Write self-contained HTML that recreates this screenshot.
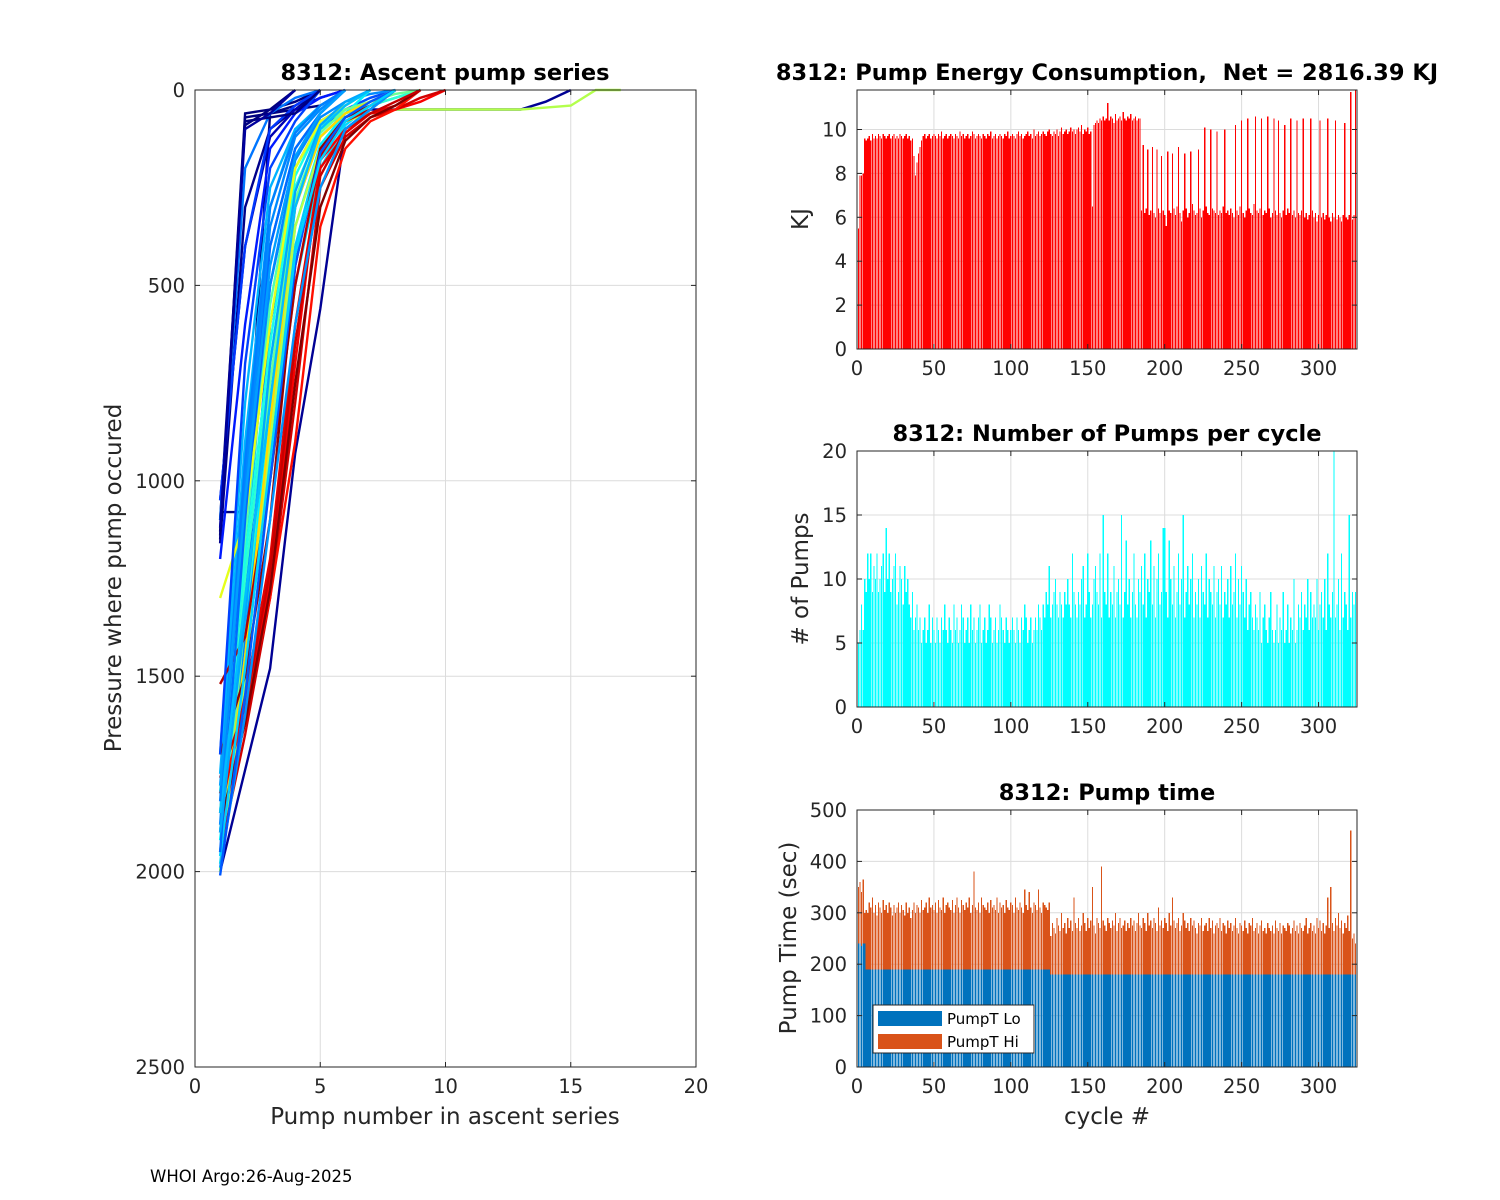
<!DOCTYPE html>
<html><head><meta charset="utf-8">
<style>
html,body{margin:0;padding:0;background:#fff;}
svg{display:block;font-family:"DejaVu Sans","Liberation Sans",sans-serif;}
</style></head>
<body>
<svg id="fig" width="1500" height="1200" viewBox="0 0 1500 1200"></svg>
<script>
// ---------- DATA ----------
const energyKJ = [5.5,7.9,7.9,8.0,9.6,9.5,9.6,9.7,9.5,9.8,9.6,9.7,9.6,9.8,9.7,9.6,9.8,9.7,9.6,9.7,
9.8,9.6,9.7,9.8,9.6,9.7,9.6,9.8,9.7,9.6,9.7,9.8,9.6,9.7,9.5,9.6,8.8,7.9,8.5,8.9,
9.2,9.5,9.7,9.8,9.6,9.7,9.8,9.6,9.7,9.8,9.7,9.6,9.8,9.7,9.9,9.6,9.7,9.8,9.6,9.7,
9.8,9.7,9.6,9.8,9.7,9.6,9.9,9.7,9.8,9.6,9.7,9.8,9.6,9.7,9.9,9.8,9.6,9.7,9.8,9.7,
9.6,9.8,9.7,9.6,9.8,9.7,9.9,9.6,9.7,9.8,9.6,9.7,9.8,9.7,9.6,9.8,9.7,9.9,9.6,9.7,
9.8,9.7,9.6,9.8,9.9,9.7,9.8,9.6,9.7,9.8,9.9,9.7,9.8,9.6,10.0,9.7,9.8,9.9,9.7,9.8,
9.9,9.8,9.7,9.9,10.0,9.8,9.7,9.9,9.8,10.0,9.7,9.9,10.1,9.8,9.9,10.0,9.8,9.9,10.1,9.9,
10.0,9.8,10.0,10.1,9.9,10.2,9.8,10.0,9.9,10.1,9.8,9.9,6.5,10.2,10.3,10.4,10.3,10.5,10.4,10.6,
10.4,10.5,11.2,10.4,10.6,10.5,10.3,10.7,10.4,10.5,10.6,10.4,10.8,10.5,10.4,10.6,10.5,10.7,10.4,10.5,
10.6,10.4,10.5,10.5,6.3,9.3,6.2,6.4,9.1,6.1,6.3,9.2,6.2,6.0,9.1,6.4,6.2,8.8,6.3,6.1,
5.6,9.0,6.3,6.2,8.9,6.4,6.1,6.5,9.2,6.2,5.8,6.3,8.9,6.4,6.0,6.2,9.0,6.6,6.3,6.1,
6.2,9.1,6.4,6.0,6.3,10.1,6.5,6.2,6.1,10.0,6.4,6.3,6.2,9.9,6.1,6.3,6.2,6.5,10.0,6.2,
6.3,6.1,6.4,6.2,6.0,10.2,6.3,6.1,6.5,10.4,6.2,6.0,6.3,10.5,6.4,6.2,6.1,6.6,10.6,6.3,
6.2,6.4,10.5,6.1,6.3,6.2,10.6,6.4,6.0,6.2,10.5,6.3,6.1,10.4,6.2,6.0,6.3,10.2,6.1,6.4,
6.2,10.5,6.1,6.3,6.0,10.4,6.2,6.1,6.3,10.5,6.0,6.2,5.9,6.1,10.5,6.3,6.0,6.2,5.8,6.1,
10.4,6.0,6.2,5.9,6.1,10.5,6.0,5.8,6.2,6.0,10.4,5.9,6.1,6.0,5.8,6.1,10.3,6.0,5.9,6.1,
11.7,5.9,6.1,11.8,6.0];
const pumpsPerCycle = [5,6,8,6,10,9,12,10,12,9,11,10,12,9,10,11,12,9,14,10,
12,9,10,11,12,8,9,11,10,8,11,9,10,8,7,9,6,7,8,6,
7,5,6,7,5,6,8,5,7,6,5,7,6,5,7,6,8,6,5,7,
6,5,8,6,7,5,6,8,7,5,6,7,5,8,6,7,5,6,7,8,
5,6,7,5,6,8,7,5,6,7,5,6,8,7,6,5,7,6,5,6,
7,6,5,7,6,5,7,6,8,7,5,6,7,5,6,7,6,8,7,6,
8,7,9,8,11,7,8,9,10,8,7,9,8,7,9,8,10,8,7,12,
9,8,7,9,8,10,11,7,8,12,9,7,8,10,11,9,8,12,7,15,
9,8,12,7,9,8,11,7,9,10,8,15,7,9,13,8,10,7,9,12,
8,7,10,9,11,8,12,7,10,9,13,8,11,7,10,12,8,9,14,14,
9,7,13,10,8,11,7,9,12,8,10,15,7,9,11,8,10,12,7,9,
8,10,7,11,9,8,12,7,10,9,8,11,7,9,10,8,11,7,9,8,
10,7,11,8,9,12,7,10,8,11,9,7,10,6,8,9,7,6,8,7,
6,9,5,7,8,6,5,7,9,6,5,6,8,5,7,6,9,5,6,8,
5,7,6,10,5,6,8,7,9,6,8,7,10,6,9,7,8,7,10,6,
8,9,7,10,6,12,8,7,9,20,7,8,10,6,12,7,9,8,6,15,
7,9,8,9,8];
const pumpTotal = [350,360,340,365,300,
305,300,320,310,330,300,315,295,320,310,300,325,305,315,300,320,310,295,315,300,
310,320,300,315,305,295,320,300,310,290,305,320,300,315,310,300,325,305,310,320,
300,330,310,315,305,320,300,325,310,305,330,300,315,320,310,305,325,300,315,330,
310,300,325,315,305,320,310,330,300,315,380,310,305,320,300,330,315,310,305,320,
300,325,310,315,305,330,300,320,310,315,300,325,310,305,320,315,300,330,310,305,
320,310,300,345,315,305,340,310,300,320,315,305,345,310,300,320,315,310,305,320,
255,280,270,260,290,275,265,300,270,280,260,290,270,285,265,330,280,270,290,265,
275,300,280,265,290,270,285,350,275,260,290,280,270,390,285,275,265,290,280,270,
285,275,300,265,280,290,270,275,285,265,280,270,290,275,285,265,280,300,275,270,
290,280,265,300,275,285,270,290,280,265,310,275,285,270,290,280,265,300,275,330,
285,270,280,290,265,275,300,285,270,280,265,290,275,285,270,260,280,275,290,265,
275,280,265,290,270,285,260,275,280,270,290,265,280,275,260,285,270,280,265,275,
290,270,260,280,275,265,285,270,260,280,275,290,265,270,280,260,275,285,265,270,
260,280,270,265,275,260,285,270,265,280,260,275,270,265,280,275,260,270,285,265,
275,260,280,270,265,275,290,260,270,280,265,275,260,290,270,285,265,280,260,275,
330,270,350,280,265,290,275,300,270,285,260,280,270,295,265,460,250,260,240,230];
const pumpLo = [240,240,235,240,240].concat(Array(120).fill(190), Array(200).fill(180));
const profileColor = [0.02,0.0,0.0,0.0,0.01,0.0,0.05,0.2,0.22,0.25,0.28,0.3,0.32,0.26,0.24,0.18,0.15,0.34,0.36,0.3,
0.42,0.45,0.48,0.4,0.55,0.66,0.6,0.88,0.9,0.92,0.95,0.98,0.86,1.0,0.93,0.27,0.21,0.33,
0.23,0.26,0.29,0.19,0.31,0.0,0.03,0.25,0.28];
const profiles = [
[2000,1740,1480,930,560,100,50,50,50,50,50,50,50,30,0],
[1150,70,60,50,40,0],[1130,60,50,0],[1100,90,50,30,0],[1160,300,100,50,0],[1080,1080,60,40,0],
[1050,400,120,50,20,0],
[1900,1300,600,250,100,50,20,0],[1850,1100,500,200,80,40,0],[1950,1400,800,300,120,60,30,0],
[1800,1000,400,150,60,0],[1750,900,300,100,50,0],[2000,1500,900,400,150,70,40,20,0],
[1900,1200,500,180,70,30,10,0],[1100,200,60,20,0],[1050,400,100,40,0],[1200,600,150,60,20,0],
[1980,1450,1000,500,200,90,40,0],[1920,1350,850,350,140,60,0],[1700,800,250,100,40,0],
[1900,1250,700,250,100,60,40,20,0],[1850,1150,550,200,90,50,30,0],[2000,1350,750,280,110,50,30,10,0],
[1800,1200,650,220,90,40,0],
[2000,1500,900,350,150,80,60,50,50,50,50,50,50,45,40,0,0],[1950,1450,850,300,120,60,30,0],[1300,1100,600,200,80,40,0],
[1900,1600,1250,700,180,100,60,50,30,0],[1850,1550,1200,600,200,110,60,40,0],[1950,1650,1300,800,250,120,70,50,20,0],
[1520,1400,1000,500,170,80,50,0],[1700,1500,1100,450,150,70,40,0],[1800,1600,1300,900,350,150,80,50,0],
[1880,1620,1280,750,300,130,70,40,0],[1760,1580,1230,650,220,100,60,30,0],
[1990,1600,1100,600,250,100,50,0],[2010,1550,1000,450,160,70,30,0],[1960,1480,950,420,180,80,40,0],
[1950,1100,400,150,60,0],[1880,1000,350,120,50,0],[1900,1350,700,260,90,30,0],[1700,700,200,80,0],
[1850,1300,800,300,100,40,0],[1140,80,70,60,0],[1120,100,60,0],[1820,950,300,110,40,0],[1780,1050,450,170,60,0]];

// ---------- HELPERS ----------
const svg = document.getElementById('fig');
const NS = 'http://www.w3.org/2000/svg';
function mk(tag, attrs, parent){const e=document.createElementNS(NS,tag);for(const k in attrs)e.setAttribute(k,attrs[k]);(parent||svg).appendChild(e);return e;}
function txt(s,x,y,attrs,parent){const e=mk('text',Object.assign({x:x,y:y,'font-size':19.5,fill:'#262626'},attrs),parent);e.textContent=s;return e;}
function jet(t){const r=Math.min(Math.max(Math.min(4*t-1.5,-4*t+4.5),0),1),g=Math.min(Math.max(Math.min(4*t-0.5,-4*t+3.5),0),1),b=Math.min(Math.max(Math.min(4*t+0.5,-4*t+2.5),0),1);return `rgb(${Math.round(r*255)},${Math.round(g*255)},${Math.round(b*255)})`;}

function axes(name,x0,y0,x1,y1,xmin,xmax,ymin,ymax,xt,yt,rev){
  const g=mk('g',{});
  
  
  const sx=v=>x0+(v-xmin)/(xmax-xmin)*(x1-x0);
  const sy=rev?(v=>y0+(v-ymin)/(ymax-ymin)*(y1-y0)):(v=>y1-(v-ymin)/(ymax-ymin)*(y1-y0));
  const grid=mk('g',{stroke:'#dcdcdc','stroke-width':1},g);
  
  
  xt.forEach(v=>mk('line',{x1:sx(v),x2:sx(v),y1:y0,y2:y1},grid));
  yt.forEach(v=>mk('line',{x1:x0,x2:x1,y1:sy(v),y2:sy(v)},grid));
  const plot=mk('g',{},g);
  
  
  return {g,plot,sx,sy,finish:function(){
    const fr=mk('g',{stroke:'#262626','stroke-width':1,fill:'none'},g);
    
    
    mk('rect',{x:x0,y:y0,width:x1-x0,height:y1-y0},fr);
    const xl=mk('g',{'text-anchor':'middle'},g);
    
    
    xt.forEach(v=>{mk('line',{x1:sx(v),x2:sx(v),y1:y1,y2:y1-5,stroke:'#262626'},fr);mk('line',{x1:sx(v),x2:sx(v),y1:y0,y2:y0+5,stroke:'#262626'},fr);txt(String(v),sx(v),y1+26,{},xl);});
    const yl=mk('g',{'text-anchor':'end'},g);
    
    
    yt.forEach(v=>{mk('line',{x1:x0,x2:x0+5,y1:sy(v),y2:sy(v),stroke:'#262626'},fr);mk('line',{x1:x1,x2:x1-5,y1:sy(v),y2:sy(v),stroke:'#262626'},fr);txt(String(v),x0-10,sy(v)+7,{},yl);});
  }};
}

// ---------- LEFT: ascent pump series ----------
(function(){
  const A=axes('ascent-chart',195,90,696,1067,0,20,0,2500,[0,5,10,15,20],[0,500,1000,1500,2000,2500],true);
  profiles.forEach((p,i)=>{
    const pts=p.map((v,j)=>A.sx(j+1).toFixed(1)+','+A.sy(v).toFixed(1)).join(' ');
    const l=mk('polyline',{points:pts,fill:'none',stroke:jet(profileColor[i]),'stroke-width':2.4},A.plot);
    
    
  });
  A.finish();
  const t=txt('8312: Ascent pump series',445,80,{'font-size':22.5,'font-weight':'bold','text-anchor':'middle',fill:'#000'});
  
  const xl=txt('Pump number in ascent series',445,1124,{'font-size':23,'text-anchor':'middle'});
  
  const yl=txt('Pressure where pump occured',0,0,{'font-size':23,'text-anchor':'middle',transform:'translate(121,578) rotate(-90)'});
  
})();

function bars(A,vals,color,base,name){
  vals.forEach((v,i)=>{
    const b0=base?base[i]:0;
    const x=A.sx(i+1-0.4),w=A.sx(i+1+0.4)-x;
    const r=mk('rect',{x:x.toFixed(2),y:A.sy(v).toFixed(2),width:w.toFixed(2),height:Math.max(0,A.sy(b0)-A.sy(v)).toFixed(2),fill:color,'shape-rendering':'crispEdges'},A.plot);
    
    
  });
}
const XT=[0,50,100,150,200,250,300];
(function(){
  const A=axes('energy-chart',857,90,1357,349,0,325,0,11.8,XT,[0,2,4,6,8,10],false);
  bars(A,energyKJ,'#ff0000',null,'energy-bar');
  A.finish();
  const t=txt('8312: Pump Energy Consumption,\u00a0 Net = 2816.39 KJ',1107,80,{'font-size':22.5,'font-weight':'bold','text-anchor':'middle',fill:'#000'});
  
  const yl=txt('KJ',0,0,{'font-size':23,'text-anchor':'middle',transform:'translate(808,219) rotate(-90)'});
  
})();
(function(){
  const A=axes('pumps-chart',857,451,1357,707,0,325,0,20,XT,[0,5,10,15,20],false);
  bars(A,pumpsPerCycle,'#00ffff',null,'pumps-bar');
  A.finish();
  const t=txt('8312: Number of Pumps per cycle',1107,441,{'font-size':22.5,'font-weight':'bold','text-anchor':'middle',fill:'#000'});
  
  const yl=txt('# of Pumps',0,0,{'font-size':23,'text-anchor':'middle',transform:'translate(808,579) rotate(-90)'});
  
})();
(function(){
  const A=axes('pumptime-chart',857,810,1357,1067,0,325,0,500,XT,[0,100,200,300,400,500],false);
  bars(A,pumpTotal,'#d95319',pumpLo,'pumpt-hi-bar');
  bars(A,pumpLo,'#0072bd',null,'pumpt-lo-bar');
  A.finish();
  const t=txt('8312: Pump time',1107,800,{'font-size':22.5,'font-weight':'bold','text-anchor':'middle',fill:'#000'});
  
  const xl=txt('cycle #',1107,1124,{'font-size':23,'text-anchor':'middle'});
  
  const yl=txt('Pump Time (sec)',0,0,{'font-size':23,'text-anchor':'middle',transform:'translate(796,938) rotate(-90)'});
  
  const lg=mk('g',{});
  
  mk('rect',{x:873,y:1005,width:161,height:48,fill:'#fff',stroke:'#262626'},lg);
  mk('rect',{x:878,y:1011,width:64,height:15,fill:'#0072bd'},lg);
  mk('rect',{x:878,y:1034,width:64,height:15,fill:'#d95319'},lg);
  const e1=txt('PumpT Lo',947,1024,{'font-size':15,fill:'#000'},lg);
  
  const e2=txt('PumpT Hi',947,1047,{'font-size':15,fill:'#000'},lg);
  
})();
const ft=txt('WHOI Argo:26-Aug-2025',150,1182,{'font-size':16.5,fill:'#000'});

</script>
</body></html>
